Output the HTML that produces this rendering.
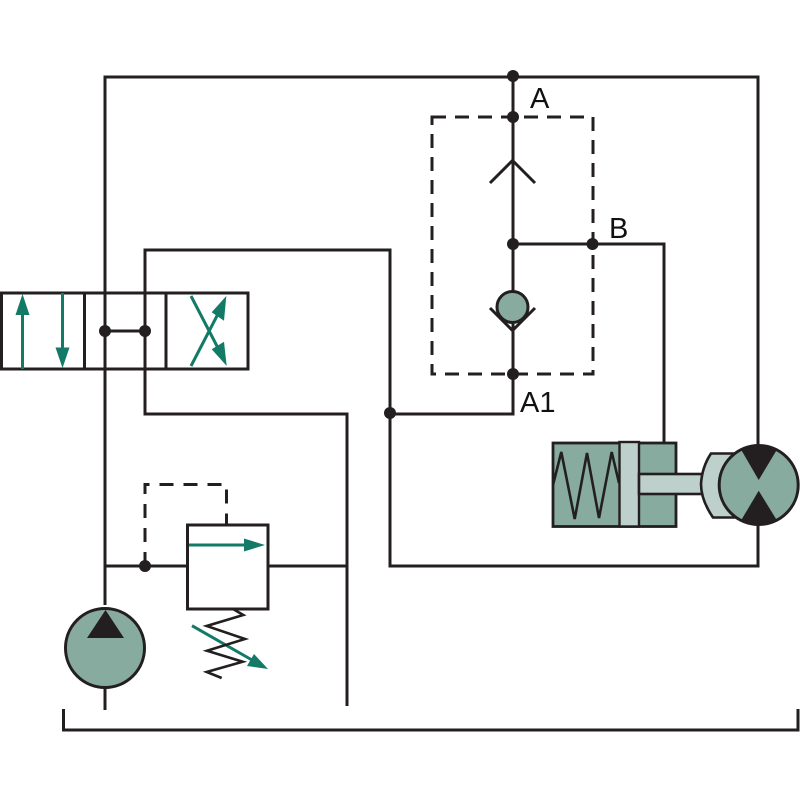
<!DOCTYPE html>
<html>
<head>
<meta charset="utf-8">
<style>
html,body{margin:0;padding:0;background:#fff;width:800px;height:800px;overflow:hidden}
svg{display:block}
text{font-family:"Liberation Sans",sans-serif;font-size:29px;fill:#111}
</style>
</head>
<body>
<svg width="800" height="800" viewBox="0 0 800 800" xmlns="http://www.w3.org/2000/svg">
<g fill="none" stroke="#231f20" stroke-width="3">
  <!-- main lines -->
  <path d="M105 605V77H758V450"/>
  <path d="M513 77V414H390"/>
  <path d="M145 293V250H390V566H758V522"/>
  <path d="M105 293V369M145 293V369"/>
  <path d="M145 369V414H347V706"/>
  <path d="M105 369V605"/>
  <path d="M105 566H187M268 566H347"/>
  <path d="M513 244H664V445"/>
  <path d="M105 688V710"/>
  <path d="M63.500 709V730H798V709" />
  <!-- dashed -->
  <path d="M432 117H593V374H432Z" stroke-dasharray="14 9"/>
  <path d="M145 566V484.500H226.500V525" stroke-dasharray="14 10"/>
  <!-- valve box -->
  <rect x="1.500" y="293" width="246.500" height="76"/>
  <path d="M84.500 293V369M166 293V369"/>
  <path d="M105 331H145"/>
  <!-- chevrons -->
  <path d="M490 183L512.500 160.500L535 183"/>
  <path d="M490 308L512.500 330.500L535 308"/>
</g>
<circle cx="512.500" cy="307" r="15.500" fill="#88ab9f" stroke="#231f20" stroke-width="3"/>

<!-- valve arrows -->
<g fill="none" stroke="#137a68" stroke-width="3">
  <path d="M22.500 369V310M62.500 293V352"/>
  <path d="M191 296L219 350M191 366L219 312"/>
  <path d="M189 545H248M192 625.700L252 660"/>
</g>
<g fill="#137a68">
  <path d="M22.500 294L29.500 315H15.500Z"/>
  <path d="M62.500 368L69.500 347.500H55.500Z"/>
  <path d="M226.300 296L211.700 312.300L224 320.700Z"/>
  <path d="M226.700 366L211.700 349.300L224 341.700Z"/>
  <path d="M265 545L244 538.500V551.500Z"/>
  <path d="M268 669L254 654L247 666Z"/>
</g>

<!-- relief valve -->
<rect x="187.500" y="525" width="80.500" height="84" fill="none" stroke="#231f20" stroke-width="3"/>
<path d="M233 609L243.300 615L206.700 626L245 639L207 650.700L242.700 661.700L206.700 672L221.700 678" fill="none" stroke="#231f20" stroke-width="2.600"/>

<!-- pump -->
<circle cx="105" cy="648" r="39.500" fill="#88ab9f" stroke="#231f20" stroke-width="3"/>
<path d="M105.500 610L124 638H87Z" fill="#231f20"/>

<!-- cylinder -->
<rect x="553" y="443" width="123" height="83.500" fill="#88ab9f" stroke="#231f20" stroke-width="2.800"/>
<path d="M553 485L561.300 452L574.700 519L587 453L599 518L611.700 452L619 483" fill="none" stroke="#231f20" stroke-width="2.600"/>
<rect x="619.500" y="442" width="19.500" height="84.500" fill="#bdd0cb" stroke="#231f20" stroke-width="2.400"/>
<rect x="639" y="474" width="64" height="20" fill="#bdd0cb" stroke="#231f20" stroke-width="2.600"/>
<path d="M711 453.500H740V517.500H713Q701 500 701 484Q702 467 711 453.500Z" fill="#bdd0cb" stroke="#231f20" stroke-width="2.600"/>

<!-- motor -->
<circle cx="758.700" cy="485" r="39.500" fill="#88ab9f" stroke="#231f20" stroke-width="3"/>
<path d="M741 449.500A39.500 39.500 0 0 1 777 449.500L758.700 480Z" fill="#231f20"/>
<path d="M741 520.500A39.500 39.500 0 0 0 777 520.500L758.700 490.700Z" fill="#231f20"/>

<!-- nodes -->
<g fill="#231f20">
  <circle cx="513" cy="76" r="6"/>
  <circle cx="513" cy="117" r="6"/>
  <circle cx="513" cy="244" r="6"/>
  <circle cx="592.500" cy="244" r="6"/>
  <circle cx="513" cy="374" r="6"/>
  <circle cx="390" cy="413" r="6"/>
  <circle cx="105" cy="331" r="6"/>
  <circle cx="145" cy="331" r="6"/>
  <circle cx="145" cy="566" r="6"/>
</g>

<text x="530" y="108">A</text>
<text x="609" y="238">B</text>
<text x="520" y="412">A1</text>
</svg>
</body>
</html>
